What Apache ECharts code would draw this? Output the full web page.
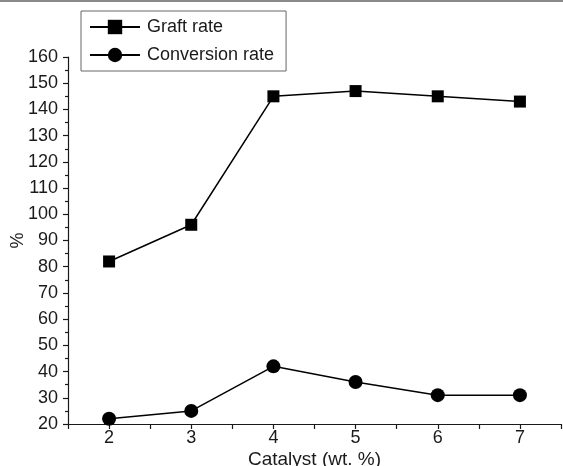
<!DOCTYPE html>
<html><head><meta charset="utf-8">
<script src="https://cdn.jsdelivr.net/npm/echarts@6/dist/echarts.min.js"></script>
<style>html,body{margin:0;padding:0;background:#fff}#c{width:563px;height:466px}</style>
</head><body><div id="c"></div>
<script>
const catalyst = [2, 3, 4, 5, 6, 7];
const graftRate = [82, 96, 145, 147, 145, 143];
const conversionRate = [22, 25, 42, 36, 31, 31];
const xTickLabels = ['2', '3', '4', '5', '6', '7'];

const font = 'Liberation Sans, Arial, Helvetica, sans-serif';
const chart = echarts.init(document.getElementById('c'));
chart.setOption({
  animation: false,
  backgroundColor: '#fff',
  textStyle: {fontFamily: font, color: '#1a1a1a'},
  grid: {left: 68, right: 2, top: 57, bottom: 42, containLabel: false, outerBoundsMode: 'none'},
  graphic: [{type: 'rect', shape: {x: 0, y: 0, width: 563, height: 2}, style: {fill: '#8a8a8a'}}],
  legend: {
    orient: 'vertical', left: 81, top: 11, padding: [7, 12, 7, 8],
    itemGap: 10, itemWidth: 50, itemHeight: 18,
    borderColor: '#666', borderWidth: 1,
    textStyle: {fontSize: 18, color: '#1a1a1a', fontFamily: font, padding: [0, 0, 0, 2]},
    data: ['Graft rate', 'Conversion rate']
  },
  xAxis: {
    type: 'value', min: 1.5, max: 7.5, interval: 0.5,
    name: 'Catalyst (wt. %)', nameLocation: 'middle', nameGap: 26, nameMoveOverlap: false,
    nameTextStyle: {fontSize: 19, color: '#1a1a1a', fontFamily: font},
    axisLine: {lineStyle: {color: '#1a1a1a', width: 1.2}},
    axisTick: {inside: false, length: 5, lineStyle: {color: '#1a1a1a', width: 1.2}},
    axisLabel: {fontSize: 18, color: '#1a1a1a', margin: 5, fontFamily: font,
      formatter: v => { const i = catalyst.indexOf(v); return i >= 0 ? xTickLabels[i] : ''; }},
    splitLine: {show: false}
  },
  yAxis: {
    type: 'value', min: 20, max: 160, interval: 10,
    name: '%', nameLocation: 'middle', nameGap: 41, nameRotate: 90, nameMoveOverlap: false,
    nameTextStyle: {fontSize: 18, color: '#1a1a1a', fontFamily: font},
    axisLine: {show: true, lineStyle: {color: '#1a1a1a', width: 1.2}},
    axisTick: {show: true, inside: false, length: 5, lineStyle: {color: '#1a1a1a', width: 1.2}},
    minorTick: {show: true, splitNumber: 2, length: 3, lineStyle: {color: '#1a1a1a', width: 1.2}},
    axisLabel: {fontSize: 18, color: '#1a1a1a', margin: 10, fontFamily: font},
    splitLine: {show: false}
  },
  series: [
    {name: 'Graft rate', type: 'line', data: catalyst.map((x, i) => [x, graftRate[i]]),
      symbol: 'rect', symbolSize: 12, itemStyle: {color: '#000'},
      lineStyle: {color: '#000', width: 1.5}},
    {name: 'Conversion rate', type: 'line', data: catalyst.map((x, i) => [x, conversionRate[i]]),
      symbol: 'circle', symbolSize: 14, itemStyle: {color: '#000'},
      lineStyle: {color: '#000', width: 1.5}}
  ]
});
</script></body></html>
